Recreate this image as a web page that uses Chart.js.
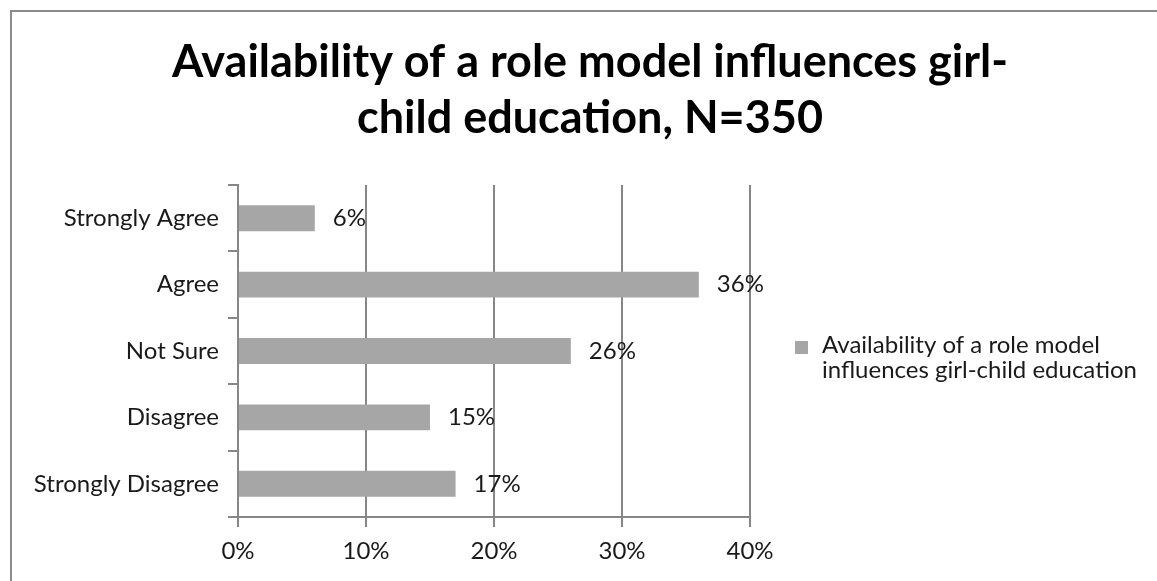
<!DOCTYPE html>
<html>
<head>
<meta charset="utf-8">
<script src="https://cdn.jsdelivr.net/npm/chart.js@4.4.1/dist/chart.umd.min.js"></script>
<style>
  html, body { margin: 0; padding: 0; background: #fff; overflow: hidden; }
  #wrap { position: relative; width: 1157px; height: 581px; }
  #frame { position: absolute; left: 10px; top: 10px; width: 2000px; height: 2000px;
           border-top: 2px solid #8c8c8c; border-left: 2px solid #8c8c8c; }
  canvas { position: absolute; left: 0; top: 0; }
</style>
</head>
<body>
<div id="wrap">
  <div id="frame"></div>
  <canvas id="c" width="1157" height="581"></canvas>
</div>
<script>
const titleLines = ["Availability of a role model influences girl-", "child education, N=350"];
const categories = ["Strongly Agree", "Agree", "Not Sure", "Disagree", "Strongly Disagree"];
const values = [6, 36, 26, 15, 17];
const seriesLabel = "Availability of a role model influences girl-child education";
const xTicks = [0, 10, 20, 30, 40];

const FONT = "Lato, 'Open Sans', sans-serif";
const GRID = "#878787";
const BAR = "#a6a6a6";
const TEXT = "#1a1a1a";

const titlePlugin = {
  id: 'titlePlugin',
  afterDraw(chart) {
    const ctx = chart.ctx;
    ctx.save();
    ctx.font = "bold 45px " + FONT;
    ctx.fillStyle = "#000";
    ctx.textAlign = 'center';
    ctx.textBaseline = 'alphabetic';
    titleLines.forEach((l, i) => ctx.fillText(l, 590, 77 + i * 56));
    ctx.restore();
  }
};

const valueLabels = {
  id: 'valueLabels',
  afterDatasetsDraw(chart) {
    const ctx = chart.ctx;
    const meta = chart.getDatasetMeta(0);
    ctx.save();
    ctx.font = "24px " + FONT;
    ctx.fillStyle = TEXT;
    ctx.textAlign = 'left';
    ctx.textBaseline = 'middle';
    meta.data.forEach((bar, i) => {
      ctx.fillText(chart.data.datasets[0].data[i] + '%', bar.x + 18, bar.y);
    });
    ctx.restore();
  }
};

const sideLegend = {
  id: 'sideLegend',
  afterDraw(chart) {
    const ctx = chart.ctx;
    const ds = chart.data.datasets[0];
    ctx.save();
    ctx.font = "24px " + FONT;
    const words = ds.label.split(' ');
    const lines = [];
    let cur = '';
    words.forEach(w => {
      const t = cur ? cur + ' ' + w : w;
      if (ctx.measureText(t).width > 335 && cur) { lines.push(cur); cur = w; }
      else cur = t;
    });
    if (cur) lines.push(cur);
    const x0 = chart.chartArea.right + 45;
    const yc = (chart.chartArea.top + chart.chartArea.bottom) / 2;
    ctx.fillStyle = ds.backgroundColor;
    ctx.fillRect(x0, yc - 10, 13, 13);
    ctx.fillStyle = TEXT;
    ctx.textAlign = 'left';
    ctx.textBaseline = 'alphabetic';
    lines.forEach((l, i) => ctx.fillText(l, x0 + 27, yc + 2 + i * 25));
    ctx.restore();
  }
};

new Chart(document.getElementById('c'), {
  type: 'bar',
  data: {
    labels: categories,
    datasets: [{
      label: seriesLabel,
      data: values,
      backgroundColor: BAR,
      borderWidth: 0,
      categoryPercentage: 1,
      barPercentage: 0.39
    }]
  },
  options: {
    indexAxis: 'y',
    responsive: false,
    animation: false,
    layout: { padding: { left: 0, right: 407, top: 185, bottom: 0 } },
    plugins: {
      legend: { display: false },
      tooltip: { enabled: false },
      title: { display: false }
    },
    scales: {
      x: {
        min: 0, max: 40,
        afterFit(scale) { scale.height = 64; },
        afterBuildTicks(scale) { scale.ticks = xTicks.map(v => ({ value: v })); },
        ticks: {
          color: TEXT,
          font: { family: FONT, size: 24 },
          padding: 10,
          callback: v => v + '%'
        },
        grid: { color: GRID, lineWidth: 2, tickLength: 10, drawTicks: true },
        border: { display: true, color: GRID, width: 2 }
      },
      y: {
        afterFit(scale) { scale.width = 238; },
        ticks: {
          color: TEXT,
          font: { family: FONT, size: 24 },
          padding: 9
        },
        grid: { offset: true, drawOnChartArea: false, color: GRID, lineWidth: 2, tickLength: 10 },
        border: { display: true, color: GRID, width: 2 }
      }
    }
  },
  plugins: [titlePlugin, valueLabels, sideLegend]
});
</script>
</body>
</html>
